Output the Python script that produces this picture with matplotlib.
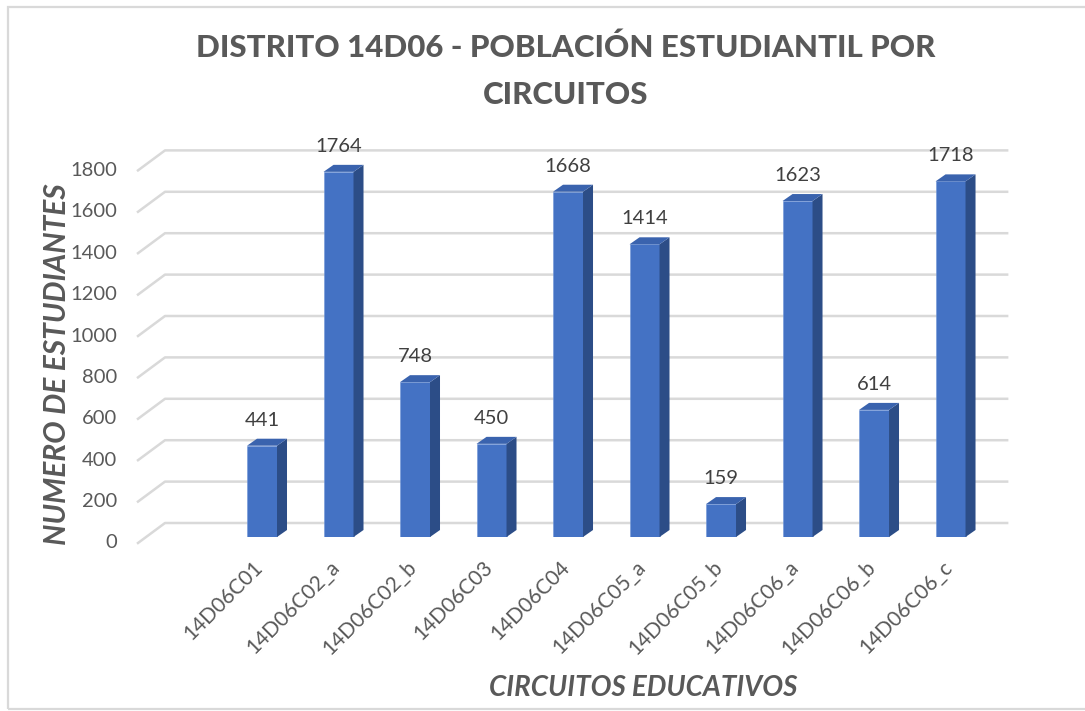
import matplotlib
matplotlib.use("Agg")
import matplotlib.pyplot as plt
from matplotlib.patches import Polygon, Rectangle
from matplotlib.lines import Line2D
from matplotlib.transforms import IdentityTransform

circuitos = ["14D06C01", "14D06C02_a", "14D06C02_b", "14D06C03", "14D06C04",
             "14D06C05_a", "14D06C05_b", "14D06C06_a", "14D06C06_b", "14D06C06_c"]
estudiantes = [441, 1764, 748, 450, 1668, 1414, 159, 1623, 614, 1718]
y_ticks = [0, 200, 400, 600, 800, 1000, 1200, 1400, 1600, 1800]

FRONT = "#4472C4"
SIDE = "#2C4D87"
TOP = "#3A63AE"
GRID = "#D9D9D9"
TEXT = "#595959"

plt.rcParams["font.family"] = ["Lato", "DejaVu Sans"]

W, H = 1085, 711
fig = plt.figure(figsize=(W / 100, H / 100), dpi=100)

# axes placed so that the bar front plane matches the picture (pixels)
left, right, base, top = 138, 1005, 537, 537 - 1800 * 0.207
ax = fig.add_axes([left / W, (H - base) / H, (right - left) / W, (base - top) / H])
ax.set_xlim(-1.621, 9.712)
ax.set_ylim(0, 1800)
ax.axis("off")

ident = IdentityTransform()


def px(x, v, dx=0, dy=0):
    # data -> display pixels, with a pixel shift (dy positive = up)
    X, Y = ax.transData.transform((x, v))
    return X + dx, Y + dy


# 3D-looking gridlines: diagonal on the floor side, then along the back wall
back_dx, back_dy = 27, 14
floor_dy = -6
for v in y_ticks:
    x0, y0 = px(-1.621, v, 0, floor_dy)
    x1, y1 = px(-1.621, v, back_dx, back_dy)
    x2, y2 = px(9.74, v, 0, back_dy)
    ax.add_line(Line2D([x0, x1, x2], [y0, y1, y2], transform=ident,
                       color=GRID, lw=1.8, clip_on=False, zorder=0.5))
    ax.text(x0 - 21, y0, f"{v}", transform=ident, ha="right", va="center",
            fontsize=14.5, color=TEXT)

# bars: front face through ax.bar, side and top faces from the same data
bw = 0.392
depth_x, depth_y = 10, 7
xs = list(range(len(circuitos)))
ax.bar(xs, estudiantes, width=bw, color=FRONT, zorder=2,
       edgecolor="#6F95D8", linewidth=0.4)
for x, v in zip(xs, estudiantes):
    r0 = px(x + bw / 2, 0)
    r1 = px(x + bw / 2, v)
    l1 = px(x - bw / 2, v)
    side = [r0, r1, (r1[0] + depth_x, r1[1] + depth_y), (r0[0] + depth_x, r0[1] + depth_y)]
    topf = [l1, r1, (r1[0] + depth_x, r1[1] + depth_y), (l1[0] + depth_x, l1[1] + depth_y)]
    ax.add_patch(Polygon(side, closed=True, transform=ident, facecolor=SIDE,
                         edgecolor="none", clip_on=False, zorder=2))
    ax.add_patch(Polygon(topf, closed=True, transform=ident, facecolor=TOP,
                         edgecolor="none", clip_on=False, zorder=2))
    cx, cy = px(x, v, 0, 17)
    ax.text(cx, cy, f"{v}", transform=ident, ha="center", va="bottom",
            fontsize=14.5, color="#404040")
    lx, ly = px(x, 0, -9, -20)
    ax.text(lx, ly, circuitos[x], transform=ident, ha="right", va="top",
            rotation=45, rotation_mode="anchor", fontsize=15, color=TEXT)

fig.text(566 / W, 1 - 48 / H, "DISTRITO 14D06 - POBLACIÓN ESTUDIANTIL POR",
         ha="center", va="center", fontsize=22.5, fontweight=900, color=TEXT)
fig.text(566 / W, 1 - 95 / H, "CIRCUITOS",
         ha="center", va="center", fontsize=22.5, fontweight=900, color=TEXT)
fig.text(57 / W, 1 - 364 / H, "NUMERO DE ESTUDIANTES", rotation=90,
         ha="center", va="center", fontsize=21.5, fontweight="bold",
         fontstyle="italic", color=TEXT)
fig.text(643 / W, 1 - 688 / H, "CIRCUITOS EDUCATIVOS",
         ha="center", va="center", fontsize=20, fontweight="bold",
         fontstyle="italic", color=TEXT)

# chart border
fig.add_artist(Rectangle((8 / W, 2 / H), 1.2, (704 - 2) / H, transform=fig.transFigure,
                         fill=False, edgecolor=GRID, lw=1.6))

fig.savefig("out.png", dpi=100)
